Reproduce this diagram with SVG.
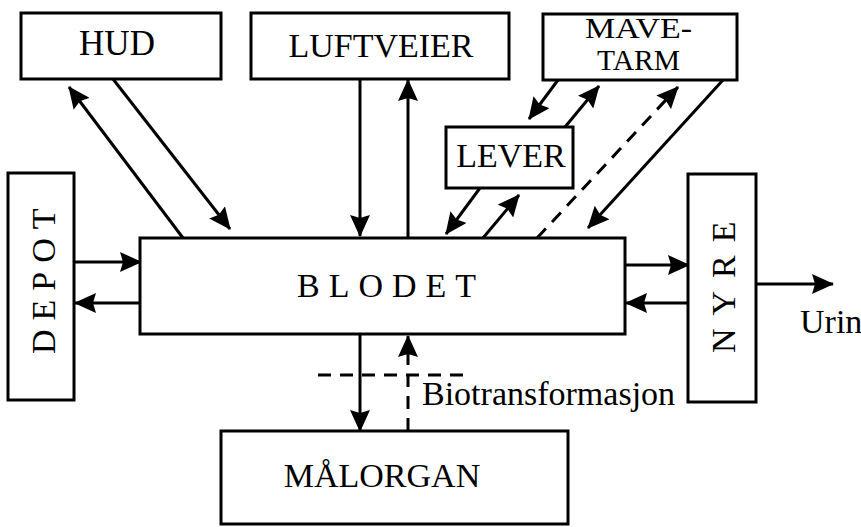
<svg xmlns="http://www.w3.org/2000/svg" width="861" height="527" viewBox="0 0 861 527">
<style>
.box{fill:#fff;stroke:#000;stroke-width:3}
.t{font-family:"Liberation Serif","Times New Roman",serif;font-size:34px;fill:#000}
.c{stroke:#000;stroke-width:3;fill:none}
.d{stroke-dasharray:13 9}
</style>
<defs>
<marker id="ah" viewBox="0 0 22 20" refX="21" refY="10" markerWidth="22" markerHeight="20" markerUnits="userSpaceOnUse" orient="auto">
<path d="M0,0 L22,10 L0,20 L3,10 z" fill="#000"/>
</marker>
</defs>
<rect width="861" height="527" fill="#fff"/>
<g id="connectors">
<line class="c" x1="113" y1="79" x2="230" y2="229" marker-end="url(#ah)"/>
<line class="c" x1="183" y1="238" x2="69" y2="87" marker-end="url(#ah)"/>
<line class="c" x1="360" y1="79" x2="360" y2="236" marker-end="url(#ah)"/>
<line class="c" x1="408" y1="238" x2="408" y2="80" marker-end="url(#ah)"/>
<line class="c" x1="480" y1="188" x2="446" y2="234" marker-end="url(#ah)"/>
<line class="c" x1="483" y1="238" x2="519" y2="195" marker-end="url(#ah)"/>
<line class="c" x1="558" y1="80" x2="529" y2="119" marker-end="url(#ah)"/>
<line class="c" x1="565" y1="127" x2="599" y2="86" marker-end="url(#ah)"/>
<line class="c d" x1="537" y1="238" x2="678" y2="87" marker-end="url(#ah)"/>
<line class="c" x1="723" y1="80" x2="588" y2="228" marker-end="url(#ah)"/>
<line class="c" x1="74" y1="262" x2="141" y2="262" marker-end="url(#ah)"/>
<line class="c" x1="140" y1="303" x2="75" y2="303" marker-end="url(#ah)"/>
<line class="c" x1="625" y1="265" x2="689" y2="265" marker-end="url(#ah)"/>
<line class="c" x1="688" y1="303" x2="626" y2="303" marker-end="url(#ah)"/>
<line class="c" x1="756" y1="284" x2="833" y2="284" marker-end="url(#ah)"/>
<line class="c" x1="360" y1="334" x2="360" y2="431" marker-end="url(#ah)"/>
<line class="c d" x1="408" y1="431" x2="408" y2="336" marker-end="url(#ah)"/>
<line class="c d" x1="318" y1="375" x2="472" y2="375"/>
</g>
<g id="hud"><rect class="box" x="21" y="13" width="200" height="66"/><text class="t" x="117" y="55" text-anchor="middle" style="font-size:35px">HUD</text></g>
<g id="luftveier"><rect class="box" x="251" y="13" width="258" height="66"/><text class="t" x="381" y="57" text-anchor="middle">LUFTVEIER</text></g>
<g id="mavetarm"><rect class="box" x="543" y="14" width="194" height="66"/><text class="t" x="585" y="38" style="font-size:29px" textLength="107" lengthAdjust="spacingAndGlyphs">MAVE-</text><text class="t" x="597" y="70" style="font-size:29px" textLength="83" lengthAdjust="spacingAndGlyphs">TARM</text></g>
<g id="lever"><rect class="box" x="446" y="127" width="127" height="61"/><text class="t" x="511" y="167" text-anchor="middle">LEVER</text></g>
<g id="depot"><rect class="box" x="8" y="173" width="66" height="227"/><text class="t" transform="translate(55,354) rotate(-90)" letter-spacing="9">DEPOT</text></g>
<g id="blodet"><rect class="box" x="140" y="238" width="485" height="96"/><text class="t" x="297" y="297" letter-spacing="9">BLODET</text></g>
<g id="nyre"><rect class="box" x="688" y="174" width="68" height="228"/><text class="t" transform="translate(735,353) rotate(-90)" letter-spacing="13">NYRE</text></g>
<g id="malorgan"><rect class="box" x="221" y="431" width="347" height="93"/><text class="t" x="382" y="487" text-anchor="middle">MÅLORGAN</text></g>
<g id="labels">
<text class="t" x="422" y="405">Biotransformasjon</text>
<text class="t" x="800" y="333">Urin</text>
</g>
</svg>
